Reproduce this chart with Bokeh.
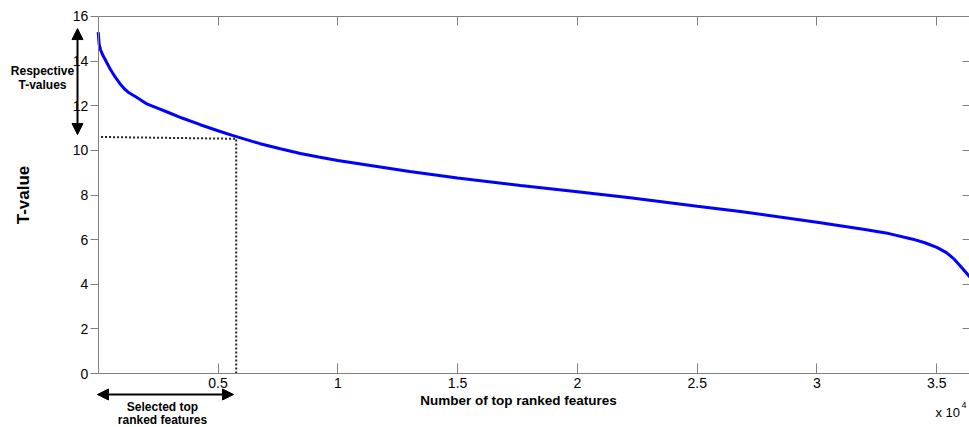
from bokeh.plotting import figure
from bokeh.models import (Range1d, LinearAxis, FixedTicker, NumeralTickFormatter,
                          CustomJSTickFormatter, Label, Arrow, NormalHead)
from bokeh.embed import file_html
from bokeh.resources import INLINE

# ---- data (x in units of 10^4 features) ----
rank_x = [0.0, 0.004, 0.01, 0.02, 0.035, 0.05, 0.07, 0.09, 0.11, 0.13, 0.16, 0.2,
          0.25, 0.288, 0.35, 0.426, 0.5, 0.563, 0.676, 0.76, 0.844, 0.92, 1.0, 1.3,
          1.5, 1.763, 2.0, 2.22, 2.5, 2.68, 3.0, 3.2, 3.3, 3.4, 3.45, 3.5, 3.54,
          3.57, 3.6, 3.62, 3.64]
t_vals = [15.3, 14.75, 14.5, 14.25, 13.95, 13.65, 13.3, 13.0, 12.75, 12.57, 12.38, 12.1,
          11.88, 11.72, 11.45, 11.15, 10.88, 10.66, 10.3, 10.07, 9.86, 9.70, 9.55, 9.05,
          8.76, 8.43, 8.15, 7.88, 7.5, 7.26, 6.78, 6.45, 6.27, 6.02, 5.86, 5.65, 5.42,
          5.15, 4.8, 4.55, 4.3]
x_ticks = [0.5, 1, 1.5, 2, 2.5, 3, 3.5]
y_ticks = [0, 2, 4, 6, 8, 10, 12, 14, 16]
selected_n = 0.576          # selected number of top features (x 10^4)
selected_t = 10.6           # corresponding T-value threshold
x_end = 3.6365              # visible end of the feature axis
y_top = 16

FONT = "Liberation Sans"
GRAY = "#808080"

# The frame spans the whole canvas; the axes are pinned at their data positions.
p = figure(width=969, height=427, output_backend="svg", toolbar_location=None,
           title=None, x_range=Range1d(-0.4078, x_end), y_range=Range1d(-2.42, 16.717),
           x_axis_location=None, y_axis_location=None,
           min_border_left=0, min_border_right=0, min_border_top=0,
           min_border_bottom=0)
p.xgrid.visible = False
p.ygrid.visible = False
p.outline_line_color = None
p.background_fill_color = "white"
p.border_fill_color = "white"

blank = CustomJSTickFormatter(code="return ''")

left = LinearAxis(ticker=FixedTicker(ticks=y_ticks), fixed_location=0, bounds=(0, y_top),
                  axis_label="T-value", axis_label_text_color="black",
                  axis_label_text_font=FONT, axis_label_text_font_style="bold",
                  axis_label_text_font_size="17px", axis_label_standoff=37,
                  major_label_text_font=FONT, major_label_text_font_size="14px",
                  major_label_standoff=2, major_tick_in=0, major_tick_out=8,
                  minor_tick_line_color=None, axis_line_color=GRAY,
                  major_tick_line_color=GRAY, major_label_text_color="black")
p.add_layout(left, "left")

bottom = LinearAxis(ticker=FixedTicker(ticks=x_ticks), fixed_location=0, bounds=(0, x_end),
                    formatter=NumeralTickFormatter(format="0.[0]"),
                    major_label_text_font=FONT, major_label_text_font_size="14px",
                    major_label_standoff=4, major_tick_in=10, major_tick_out=0,
                    minor_tick_line_color=None, axis_line_color=GRAY,
                    major_tick_line_color=GRAY, major_label_text_color="black")
p.add_layout(bottom, "below")

top = LinearAxis(ticker=FixedTicker(ticks=x_ticks), fixed_location=y_top, bounds=(0, x_end),
                 formatter=blank, major_label_standoff=0, major_tick_in=9,
                 major_tick_out=0, minor_tick_line_color=None, axis_line_color=GRAY,
                 major_tick_line_color=GRAY)
p.add_layout(top, "above")

right = LinearAxis(ticker=FixedTicker(ticks=y_ticks), fixed_location=x_end, bounds=(0, y_top),
                   formatter=blank, major_label_standoff=0, major_tick_in=7,
                   major_tick_out=0, minor_tick_line_color=None, axis_line_color=None,
                   major_tick_line_color=GRAY)
p.add_layout(right, "right")

# dotted guide lines
p.line([0.012, selected_n], [selected_t, selected_t - 0.08], line_color="#222222",
       line_width=2, line_dash="2 2")
p.line([selected_n, selected_n], [0, selected_t - 0.1], line_color="#222222",
       line_width=2, line_dash="2 2")

# main curve
p.line(rank_x, t_vals, line_color="#0000ff", line_width=3)

# double arrows
def head():
    return NormalHead(size=11, fill_color="black", line_color="black", line_width=1)

p.add_layout(Arrow(x_start=-0.0864, y_start=10.71, x_end=-0.0864, y_end=15.46,
                   line_width=2, line_color="black", start=head(), end=head()))
p.add_layout(Arrow(x_start=-0.003, y_start=-0.941, x_end=0.5647, y_end=-0.941,
                   line_width=2, line_color="black", start=head(), end=head()))

def lab(text, x, y, size, bold=True, align="center", angle=0):
    p.add_layout(Label(x=x, y=y, text=text, angle=angle,
                       text_font=FONT, text_font_size=size,
                       text_font_style="bold" if bold else "normal",
                       text_align=align, text_baseline="middle", text_color="black"))

lab("Respective", -0.2325, 13.535, "12px")
lab("T-values", -0.2325, 12.95, "12px")
lab("Selected top", 0.2684, -1.479, "12px")
lab("ranked features", 0.2684, -2.062, "12px")
lab("Number of top ranked features", 1.754, -1.21, "13.5px")
lab("x 10", 3.4946, -1.748, "13px", bold=False, align="left")
lab("4", 3.6031, -1.40, "9px", bold=False, align="left")

open("out.html", "w").write(file_html(p, INLINE))
